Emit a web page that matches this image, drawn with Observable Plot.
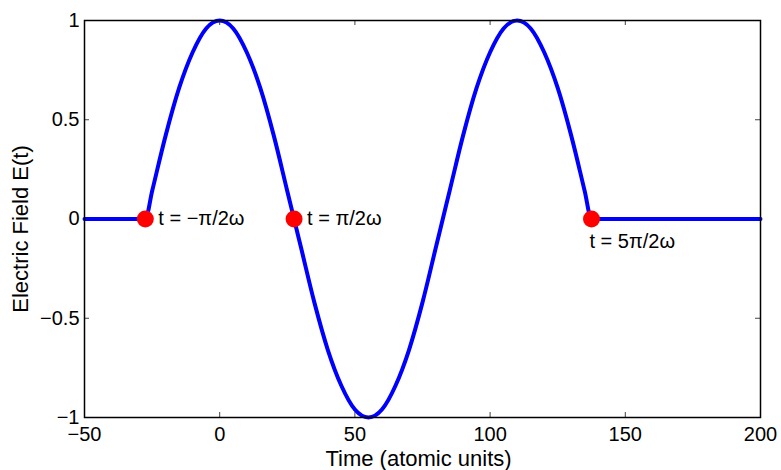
<!DOCTYPE html>
<html>
<head>
<meta charset="utf-8">
<script src="https://cdn.jsdelivr.net/npm/d3@7"></script>
<script src="https://cdn.jsdelivr.net/npm/@observablehq/plot@0.6"></script>
<style>
  html, body { margin: 0; padding: 0; background: #fff; }
  #chart svg { display: block; }
</style>
</head>
<body>
<div id="chart"></div>
<script>
// Values
const times  = [-50, -27.5, -25, -20, -15, -10, -5, 0, 5, 10, 15, 20, 25, 27.5, 30, 35, 40, 45, 50, 55, 60, 65, 70, 75, 80, 82.5, 85, 90, 95, 100, 105, 110, 115, 120, 125, 130, 135, 137.5, 200];
const field  = [0, 0, 0.14, 0.42, 0.66, 0.84, 0.96, 1, 0.96, 0.84, 0.66, 0.42, 0.14, 0, -0.14, -0.42, -0.66, -0.84, -0.96, -1, -0.96, -0.84, -0.66, -0.42, -0.14, 0, 0.14, 0.42, 0.66, 0.84, 0.96, 1, 0.96, 0.84, 0.66, 0.42, 0.14, 0, 0];

const markerTimes  = [-27.5, 27.5, 137.5];
const markerValues = [0, 0, 0];
const markerLabels = ["t = −π/2ω", "t = π/2ω", "t = 5π/2ω"];

const xTicks = [-50, 0, 50, 100, 150, 200];
const yTicks = [-1, -0.5, 0, 0.5, 1];

const xLabel = "Time (atomic units)";
const yLabel = "Electric Field E(t)";

const curve = times.map((t, i) => ({t, e: field[i]}));
const markers = markerTimes.map((t, i) => ({t, e: markerValues[i], label: markerLabels[i]}));

const fmt = d => d < 0 ? "−" + String(-d) : String(d);

const W = 781, H = 470;
const mL = 84, mR = 21, mT = 20, mB = 53;
const innerH = H - mT - mB, innerW = W - mL - mR;
const tickLen = 5;

const chart = Plot.plot({
  width: W, height: H,
  marginLeft: mL, marginRight: mR, marginTop: mT, marginBottom: mB,
  style: {fontFamily: "'Liberation Sans', Arial, Helvetica, sans-serif", fontSize: "20px", color: "black", background: "white"},
  x: {domain: [-50, 200]},
  y: {domain: [-1, 1]},
  marks: [
    // inward tick marks on all four sides
    Plot.tickX(xTicks, {x: d => d, insetTop: innerH - tickLen, stroke: "#444", strokeWidth: 1}),
    Plot.tickX(xTicks, {x: d => d, insetBottom: innerH - tickLen, stroke: "#444", strokeWidth: 1}),
    Plot.tickY(yTicks, {y: d => d, insetRight: innerW - tickLen, stroke: "#444", strokeWidth: 1}),
    Plot.tickY(yTicks, {y: d => d, insetLeft: innerW - tickLen, stroke: "#444", strokeWidth: 1}),
    Plot.axisX(xTicks, {tickSize: 0, tickPadding: 9, fontSize: 20, tickFormat: fmt, label: null}),
    Plot.axisY(yTicks, {tickSize: 0, tickPadding: 5, fontSize: 20, tickFormat: fmt, label: null}),
    Plot.text([xLabel], {frameAnchor: "bottom", text: d => d, textAnchor: "middle", dx: -4, dy: 41, lineAnchor: "middle", fontSize: 22}),
    Plot.text([yLabel], {frameAnchor: "left", text: d => d, textAnchor: "middle", rotate: -90, dx: -64, dy: 10, lineAnchor: "middle", fontSize: 22}),
    Plot.line(curve, {x: "t", y: "e", stroke: "#0000ff", strokeWidth: 4, curve: "monotone-x"}),
    Plot.dot(markers, {x: "t", y: "e", r: 8.5, fill: "#ff0000", stroke: "none"}),
    Plot.text(markers.slice(0, 2), {x: "t", y: "e", text: "label", textAnchor: "start", dx: 13, fontSize: 20}),
    Plot.text(markers.slice(2), {x: "t", y: "e", text: "label", textAnchor: "start", dx: -2, dy: 23, fontSize: 20}),
    Plot.frame({stroke: "black", strokeWidth: 1.5})
  ]
});
document.getElementById("chart").appendChild(chart);
</script>
</body>
</html>
